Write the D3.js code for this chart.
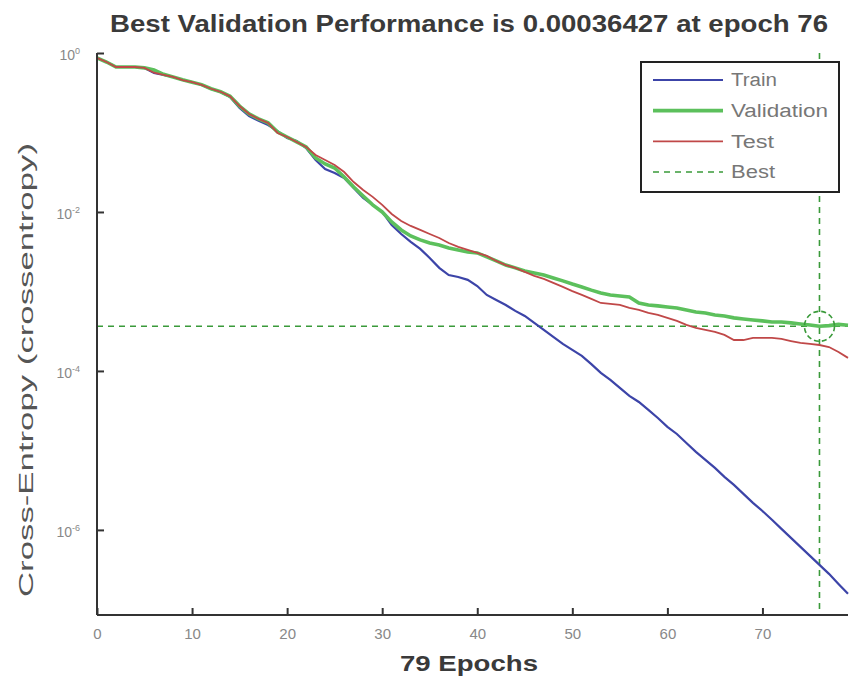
<!DOCTYPE html>
<html>
<head>
<meta charset="utf-8">
<script src="https://cdn.jsdelivr.net/npm/d3@7"></script>
<style>
  html, body { margin: 0; padding: 0; background: #fff; }
  svg { display: block; font-family: "Liberation Sans", Arial, sans-serif; }
</style>
</head>
<body>
<svg id="chart" width="849" height="681"></svg>
<script>
// ---- data ----
const epochs = d3.range(0, 80);
const train = [0.865,0.77,0.667,0.667,0.667,0.648,0.56,0.529,0.499,0.457,
  0.432,0.396,0.352,0.323,0.28,0.203,0.161,0.14,0.124,0.104,
  0.0853,0.0782,0.0638,0.0451,0.0347,0.031,0.0268,0.02,0.015,0.0123,
  0.01,0.00686,0.00528,0.0042,0.00343,0.00264,0.00198,0.00161,0.00152,0.0014,
  0.00117,0.000904,0.000782,0.000676,0.000569,0.000492,0.000402,0.000328,0.000268,0.000219,
  0.000184,0.000155,0.000122,9.44e-5,7.71e-5,6.11e-5,4.85e-5,4.07e-5,3.23e-5,2.56e-5,
  1.98e-5,1.61e-5,1.24e-5,9.58e-6,7.6e-6,6.03e-6,4.65e-6,3.68e-6,2.84e-6,2.19e-6,
  1.73e-6,1.34e-6,1.03e-6,7.93e-7,6.11e-7,4.71e-7,3.63e-7,2.8e-7,2.09e-7,1.57e-7];
const validation = [0.87,0.77,0.667,0.667,0.667,0.65,0.611,0.54,0.5,0.46,
  0.43,0.4,0.355,0.325,0.285,0.215,0.171,0.148,0.132,0.101,
  0.0877,0.076,0.0658,0.0478,0.0402,0.0357,0.0275,0.0206,0.0159,0.0123,
  0.01,0.00748,0.00594,0.00499,0.00445,0.00407,0.00385,0.00352,0.00333,0.00314,
  0.00305,0.00272,0.00242,0.00215,0.00198,0.00181,0.00171,0.00161,0.00148,0.00136,
  0.00124,0.00114,0.00104,0.000957,0.000904,0.000878,0.000853,0.000716,0.000676,0.000658,
  0.000638,0.00062,0.000585,0.000552,0.000537,0.000506,0.000492,0.000465,0.000451,0.000438,
  0.000426,0.000413,0.000413,0.000402,0.00039,0.000379,0.00036427,0.000372,0.000385,0.000376];
const test = [0.87,0.77,0.667,0.667,0.667,0.65,0.565,0.53,0.5,0.455,
  0.43,0.397,0.355,0.325,0.285,0.215,0.171,0.148,0.132,0.0986,
  0.0877,0.076,0.0658,0.0521,0.0451,0.039,0.0318,0.0238,0.0189,0.0155,
  0.0123,0.00944,0.00771,0.00667,0.00594,0.00528,0.00471,0.00407,0.00363,0.00333,
  0.00305,0.0028,0.00242,0.00215,0.00198,0.00176,0.00157,0.00144,0.00128,0.00114,
  0.00101,0.000904,0.000805,0.000716,0.000697,0.000676,0.00062,0.000585,0.000537,0.000506,
  0.000465,0.000426,0.000379,0.000348,0.000328,0.00031,0.000284,0.000245,0.000245,0.00026,
  0.00026,0.00026,0.000253,0.000238,0.000225,0.000219,0.000212,0.0002,0.000173,0.000146];
const bestEpoch = 76;
const bestValue = 0.00036427;
const xTicks = [0,10,20,30,40,50,60,70];
const yTicks = [1, 1e-2, 1e-4, 1e-6];
const yTickExp = ["0", "-2", "-4", "-6"];
const seriesNames = ["Train", "Validation", "Test", "Best"];
const titleText = "Best Validation Performance is 0.00036427 at epoch 76";
const xLabelText = "79 Epochs";
const yLabelText = "Cross-Entropy  (crossentropy)";

// ---- layout ----
const svg = d3.select("#chart");
const mLeft = 97, mRight = 848, mTop = 53, mBottom = 615;
const x = d3.scaleLinear().domain([0, 79]).range([mLeft, mRight]);
const y = d3.scaleLog().domain([8.5e-8, 1]).range([mBottom, mTop]);

const colors = { Train: "#3c44a8", Validation: "#5cc05c", Test: "#c04848", Best: "#3a9a3a" };

// best lines (under the data)
const gBest = svg.append("g");
gBest.append("line")
  .attr("x1", x(0)).attr("x2", x(79))
  .attr("y1", y(bestValue)).attr("y2", y(bestValue))
  .attr("stroke", colors.Best).attr("stroke-width", 1.6).attr("stroke-dasharray", "6,5");
gBest.append("line")
  .attr("x1", x(bestEpoch)).attr("x2", x(bestEpoch))
  .attr("y1", mTop).attr("y2", mBottom)
  .attr("stroke", colors.Best).attr("stroke-width", 1.6).attr("stroke-dasharray", "6,5");

// data lines
const line = d3.line().x((d, i) => x(epochs[i])).y(d => y(d));
svg.append("path").datum(train).attr("d", line)
  .attr("fill", "none").attr("stroke", colors.Train).attr("stroke-width", 2.2);
svg.append("path").datum(validation).attr("d", line)
  .attr("fill", "none").attr("stroke", colors.Validation).attr("stroke-width", 3.6);
svg.append("path").datum(test).attr("d", line)
  .attr("fill", "none").attr("stroke", colors.Test).attr("stroke-width", 1.8);

// best circle
svg.append("circle")
  .attr("cx", x(bestEpoch)).attr("cy", y(bestValue)).attr("r", 15)
  .attr("fill", "none").attr("stroke", colors.Best).attr("stroke-width", 1.6)
  .attr("stroke-dasharray", "5,3");

// axes
const xAxis = svg.append("g").attr("transform", `translate(0,${mBottom})`)
  .call(d3.axisBottom(x).tickValues(xTicks).tickSize(-7).tickPadding(13).tickFormat(d3.format("d")));
xAxis.select(".domain").attr("stroke", "#333").attr("stroke-width", 2)
  .attr("d", `M${mLeft},0H${mRight}`);
xAxis.selectAll(".tick line").attr("stroke", "#333").attr("stroke-width", 2);
xAxis.selectAll(".tick text").attr("fill", "#888").attr("font-size", 15)
  .attr("font-family", "Liberation Sans, Arial, sans-serif");

const yAxis = svg.append("g").attr("transform", `translate(${mLeft},0)`)
  .call(d3.axisLeft(y).tickValues(yTicks).tickSize(-7).tickPadding(20).tickFormat(() => ""));
yAxis.select(".domain").attr("stroke", "#333").attr("stroke-width", 2)
  .attr("d", `M0,${mTop}V${mBottom}`);
yAxis.selectAll(".tick line").attr("stroke", "#333").attr("stroke-width", 2);
yAxis.selectAll(".tick text").each(function(d, i) {
  const t = d3.select(this).attr("fill", "#888").attr("font-size", 14)
    .attr("font-family", "Liberation Sans, Arial, sans-serif")
    .attr("text-anchor", "end").attr("x", -17).attr("dy", "0.45em");
  t.append("tspan").text("10");
  t.append("tspan").attr("dy", "-0.6em").attr("font-size", 9).text(yTickExp[i]);
});

// title and labels
svg.append("text").attr("x", 469).attr("y", 32).attr("text-anchor", "middle")
  .attr("font-size", 23).attr("font-weight", "bold").attr("fill", "#3a3a3a")
  .attr("textLength", 718).attr("lengthAdjust", "spacingAndGlyphs").text(titleText);
svg.append("text").attr("x", 469).attr("y", 671).attr("text-anchor", "middle")
  .attr("font-size", 22).attr("font-weight", "bold").attr("fill", "#3a3a3a")
  .attr("textLength", 138).attr("lengthAdjust", "spacingAndGlyphs").text(xLabelText);
svg.append("text").attr("transform", "translate(33,370) rotate(-90)").attr("text-anchor", "middle")
  .attr("font-size", 21).attr("fill", "#555")
  .attr("textLength", 454).attr("lengthAdjust", "spacingAndGlyphs").text(yLabelText);

// legend
const lg = svg.append("g");
lg.append("rect").attr("x", 641).attr("y", 62).attr("width", 198).attr("height", 130)
  .attr("fill", "#fff").attr("stroke", "#222").attr("stroke-width", 2);
const legendY = d3.scalePoint().domain(seriesNames).range([80, 172]);
const legendW = { Train: 46, Validation: 97, Test: 43, Best: 44 };
const legendStroke = { Train: 2.2, Validation: 3.6, Test: 1.8, Best: 1.6 };
seriesNames.forEach(n => {
  lg.append("line").attr("x1", 653).attr("x2", 723).attr("y1", legendY(n)).attr("y2", legendY(n))
    .attr("stroke", colors[n]).attr("stroke-width", legendStroke[n])
    .attr("stroke-dasharray", n === "Best" ? "6,5" : null);
  lg.append("text").attr("x", 731).attr("y", legendY(n)).attr("dy", "0.36em")
    .attr("font-size", 18).attr("fill", "#777")
    .attr("textLength", legendW[n]).attr("lengthAdjust", "spacingAndGlyphs").text(n);
});
</script>
</body>
</html>
